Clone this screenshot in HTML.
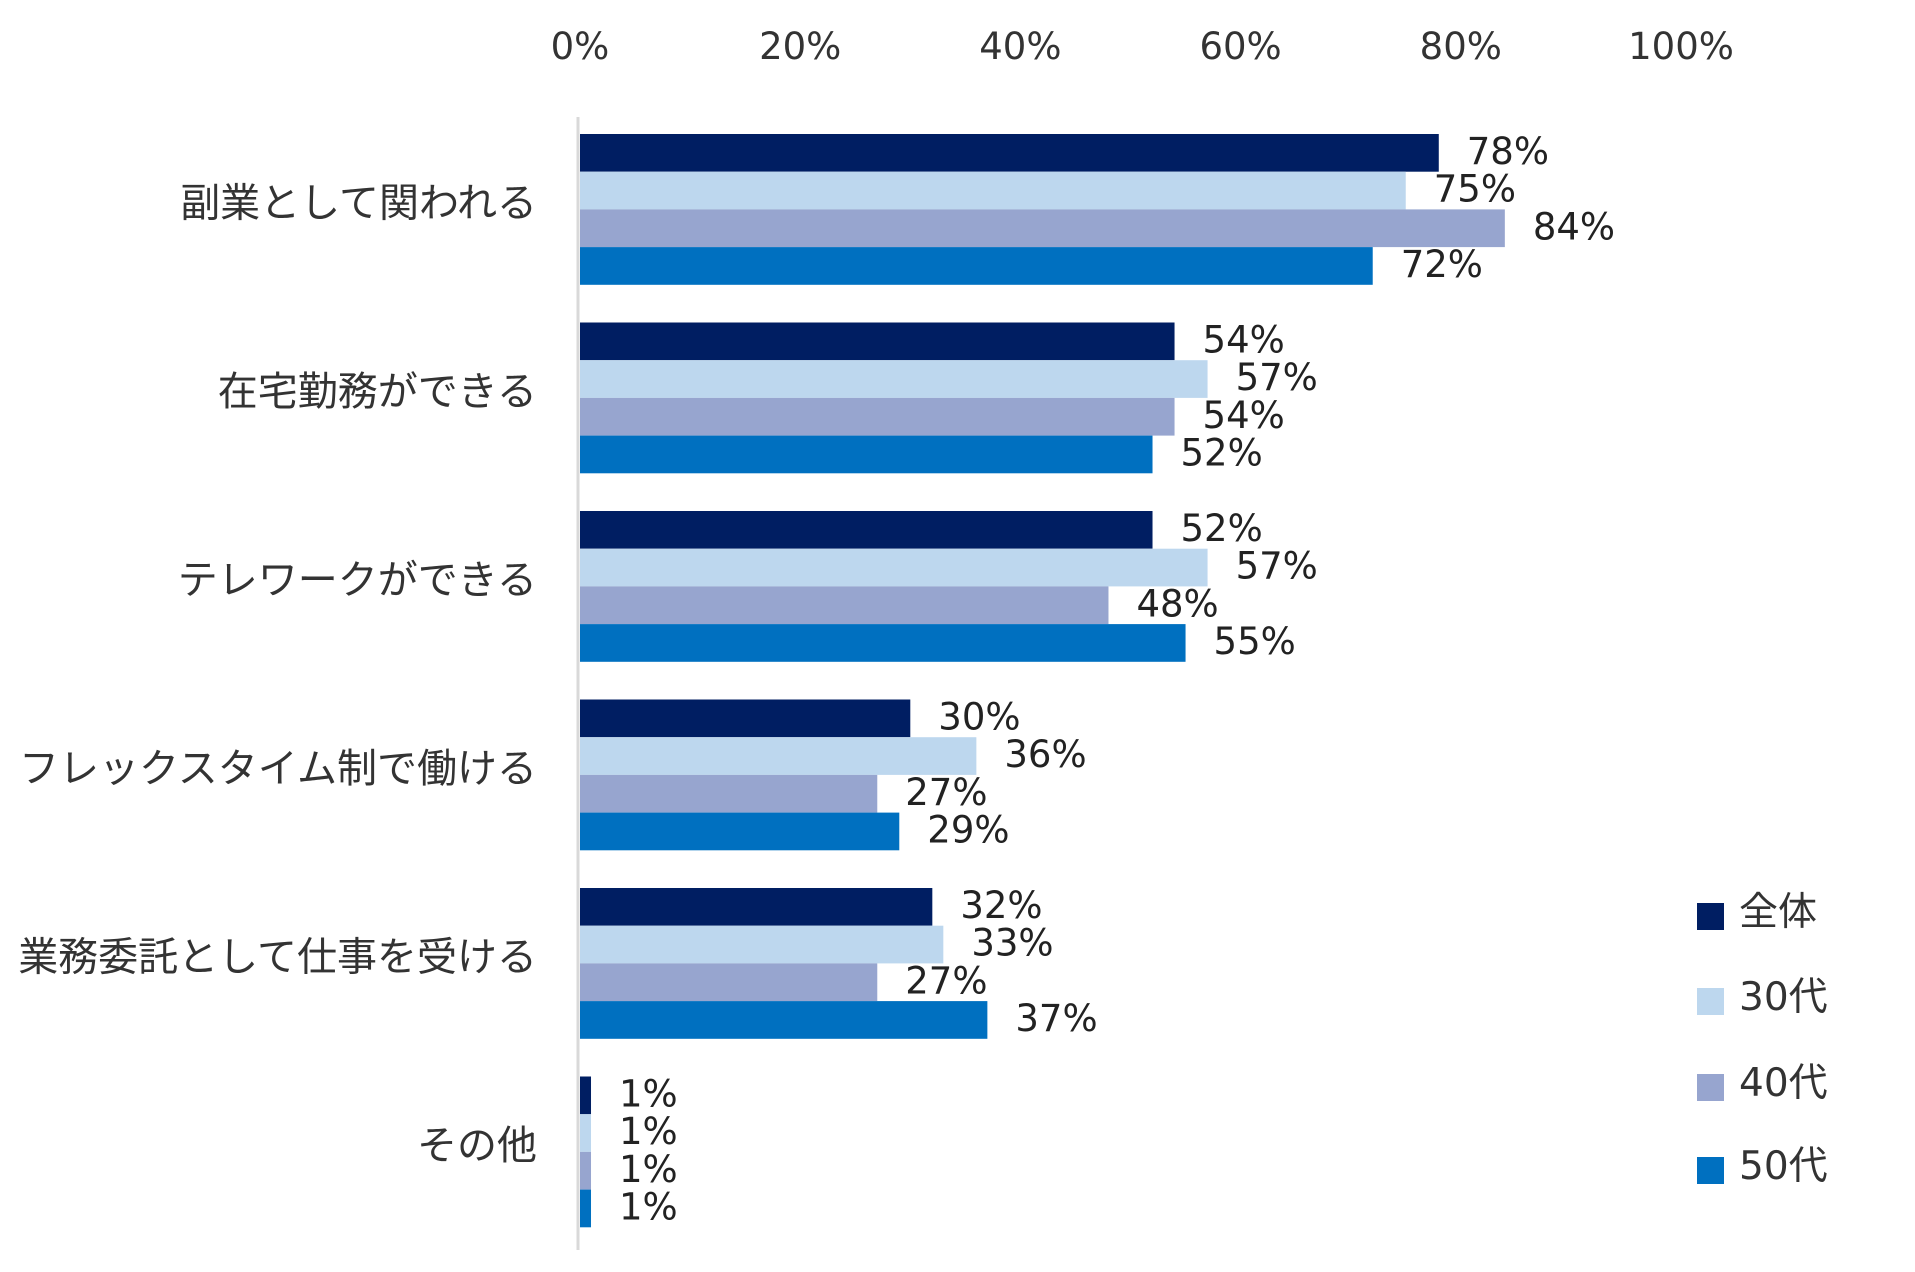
<!DOCTYPE html>
<html><head><meta charset="utf-8">
<style>
html,body{margin:0;padding:0;background:#fff;}
svg{display:block;font-family:"DejaVu Sans","Noto Sans CJK JP",sans-serif;}
.cat{font-family:"Liberation Sans","Noto Sans CJK JP",sans-serif;}
</style></head>
<body>
<svg id="chart" width="1915" height="1272" viewBox="0 0 1915 1272" xmlns="http://www.w3.org/2000/svg"></svg>
<script>
const categories = ["副業として関われる","在宅勤務ができる","テレワークができる","フレックスタイム制で働ける","業務委託として仕事を受ける","その他"];
const seriesNames = ["全体","30代","40代","50代"];
const valuesAll = [78,54,52,30,32,1];
const values30 = [75,57,57,36,33,1];
const values40 = [84,54,48,27,27,1];
const values50 = [72,52,55,29,37,1];
const tickValues = [0,20,40,60,80,100];
const tickLabels = ["0%","20%","40%","60%","80%","100%"];

const colors = ["#001E62","#BDD7EE","#97A5CF","#0070C0"];
const series = [valuesAll, values30, values40, values50];
const NS = "http://www.w3.org/2000/svg";
const svg = document.getElementById("chart");
const x0 = 580, x100 = 1681;
const xScale = v => x0 + (x100 - x0) * v / 100;
const groupTop = 134, groupStep = 188.5, barH = 37.7;
const yBar = (ci, si) => groupTop + ci * groupStep + si * barH;

function mk(tag, attrs, text){
  const e = document.createElementNS(NS, tag);
  for (const k in attrs) e.setAttribute(k, attrs[k]);
  if (text !== undefined) e.textContent = text;
  svg.appendChild(e);
  return e;
}

tickValues.forEach((v,i)=>{
  const t = mk("text",{x:xScale(v),y:59,"text-anchor":"middle","font-size":37,fill:"#333"},tickLabels[i]);
  
  
});

const ax = mk("line",{x1:578,x2:578,y1:117,y2:1250,stroke:"#d9d9d9","stroke-width":3});



categories.forEach((c,ci)=>{
  const cy = yBar(ci,2);
  const t = mk("text",{x:537,y:cy+7,"text-anchor":"end","font-size":40,fill:"#333",class:"cat"},c);
  
  
  series.forEach((vals,si)=>{
    const y = yBar(ci,si);
    const r = mk("rect",{x:x0,y:y,width:xScale(vals[ci])-x0,height:barH,fill:colors[si]});
    
    
    const l = mk("text",{x:xScale(vals[ci])+28,y:y+barH/2+11,"font-size":37,fill:"#222"},vals[ci]+"%");
    
    
  });
});

const legY = [916,1001,1087,1170];
seriesNames.forEach((n,i)=>{
  const r = mk("rect",{x:1697,y:legY[i]-13,width:27,height:27,fill:colors[i]});
  
  
  const t = mk("text",{x:1739,y:legY[i]+9,"font-size":39,fill:"#333"},n);
  
  
});
</script>
</body></html>
